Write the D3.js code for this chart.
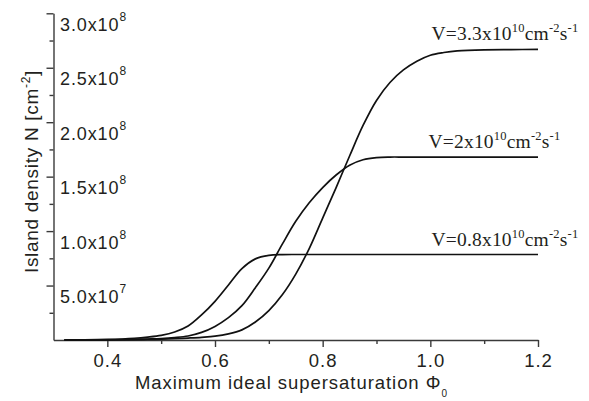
<!DOCTYPE html>
<html><head><meta charset="utf-8">
<script src="https://cdn.jsdelivr.net/npm/d3@7"></script>
<style>
html,body{margin:0;padding:0;background:#fff;}
svg{display:block;}
text{fill:#231f20;}
</style>
</head><body>
<svg id="chart" width="589" height="401"></svg>
<script>
// ---- data ----
const phi = [0.32, 0.35, 0.4, 0.45, 0.475, 0.5, 0.525, 0.55, 0.575, 0.6, 0.625, 0.65, 0.675, 0.7, 0.725, 0.75, 0.775, 0.8, 0.825, 0.85, 0.875, 0.9, 0.925, 0.95, 0.975, 1.0, 1.025, 1.05, 1.1, 1.15, 1.2];
const densityV08 = [0, 0.1e6, 0.5e6, 1.6e6, 2.7e6, 4.3e6, 7.3e6, 12.8e6, 23e6, 35.5e6, 50.5e6, 65.5e6, 74.5e6, 77.7e6, 78.4e6, 78.5e6, 78.5e6, 78.5e6, 78.5e6, 78.5e6, 78.5e6, 78.5e6, 78.5e6, 78.5e6, 78.5e6, 78.5e6, 78.5e6, 78.5e6, 78.5e6, 78.5e6, 78.5e6];
const densityV2 = [0, 0.05e6, 0.2e6, 0.6e6, 0.9e6, 1.3e6, 2.2e6, 3.7e6, 7e6, 12.5e6, 20.5e6, 31.5e6, 48e6, 66e6, 88e6, 109e6, 126e6, 140e6, 151.5e6, 160.5e6, 165.5e6, 167.5e6, 168e6, 168e6, 168e6, 168e6, 168e6, 168e6, 168e6, 168e6, 168e6];
const densityV33 = [0, 0.03e6, 0.1e6, 0.3e6, 0.5e6, 0.8e6, 1.2e6, 1.8e6, 2.5e6, 3.5e6, 5.6e6, 9.3e6, 16.5e6, 27e6, 41.5e6, 60.5e6, 84e6, 112e6, 140e6, 169e6, 197e6, 220e6, 236.5e6, 248e6, 256e6, 261.5e6, 264e6, 265.5e6, 266.5e6, 266.7e6, 266.8e6];
const seriesNames = ["0.8", "2", "3.3"];
const xMajorTicks = [0.4, 0.6, 0.8, 1.0, 1.2];
const xMinorTicks = [0.5, 0.7, 0.9, 1.1];
const yMajorTicks = [5e7, 1e8, 1.5e8, 2e8, 2.5e8, 3e8];
const yMinorTicks = [2.5e7, 7.5e7, 1.25e8, 1.75e8, 2.25e8, 2.75e8];
const yTickMantissa = ["5.0", "1.0", "1.5", "2.0", "2.5", "3.0"];
const yTickExponent = ["7", "8", "8", "8", "8", "8"];

// ---- layout ----
const svg = d3.select("#chart");
const x = d3.scaleLinear().domain([0.3, 1.2]).range([53.5, 538]);
const y = d3.scaleLinear().domain([0, 3e8]).range([340, 13.3]);
const axisColor = "#3a3a3a";
const sans = "'Liberation Sans', Arial, Helvetica, sans-serif";
const serif = "'Liberation Serif', 'Times New Roman', serif";

// x axis
const gx = svg.append("g").attr("transform", `translate(0,${y(0)})`);
gx.call(d3.axisBottom(x).tickValues(xMajorTicks).tickSize(7).tickSizeOuter(0).tickFormat(d3.format(".1f")));
const gxm = svg.append("g").attr("transform", `translate(0,${y(0)})`);
gxm.call(d3.axisBottom(x).tickValues(xMinorTicks).tickSize(4).tickSizeOuter(0).tickFormat(""));
gxm.select(".domain").remove();
gx.selectAll("text").attr("dy", null).attr("y", 27).attr("dominant-baseline", "auto")
  .style("font-family", sans).style("font-size", "18.5px").style("letter-spacing", "1px").style("fill", "#231f20");

// y axis
const gy = svg.append("g").attr("transform", `translate(${x(0.3)},0)`);
gy.call(d3.axisLeft(y).tickValues(yMajorTicks).tickSize(7).tickSizeOuter(0).tickFormat(""));
const gym = svg.append("g").attr("transform", `translate(${x(0.3)},0)`);
gym.call(d3.axisLeft(y).tickValues(yMinorTicks).tickSize(4).tickSizeOuter(0).tickFormat(""));
gym.select(".domain").remove();

svg.selectAll(".domain, .tick line").attr("stroke", axisColor).attr("stroke-width", 1.4);

// y tick labels inside
const yl = svg.append("g").selectAll("text").data(yMajorTicks).join("text")
  .attr("x", x(0.3) + 6.5).attr("y", d => y(d) + 17.5)
  .style("font-family", sans).style("font-size", "18px").style("letter-spacing", "0.9px");
yl.append("tspan").text((d, i) => yTickMantissa[i] + "x10");
yl.append("tspan").attr("dy", -10).style("font-size", "12px").text((d, i) => yTickExponent[i]);

// curves
const line = d3.line().x(d => x(d[0])).y(d => y(d[1])).curve(d3.curveCatmullRom.alpha(0.5));
const seriesData = [densityV08, densityV2, densityV33];
svg.append("g").selectAll("path").data(seriesData).join("path")
  .attr("d", s => line(phi.map((p, i) => [p, s[i]])))
  .attr("fill", "none").attr("stroke", "#111").attr("stroke-width", 1.7);

// curve labels
const labelX = [431.5, 428.5, 431.5];
seriesData.forEach((s, k) => {
  const t = svg.append("text").attr("x", labelX[k]).attr("y", y(s[s.length - 1]) - 9)
    .style("font-family", serif).style("font-size", "19.5px").style("letter-spacing", "0.2px");
  t.append("tspan").text("V=" + seriesNames[k] + "x10");
  t.append("tspan").attr("dy", -8).style("font-size", "12.5px").text("10");
  t.append("tspan").attr("dy", 8).text("cm");
  t.append("tspan").attr("dy", -8).style("font-size", "12.5px").text("-2");
  t.append("tspan").attr("dy", 8).text("s");
  t.append("tspan").attr("dy", -8).style("font-size", "12.5px").text("-1");
});

// axis titles
const yt = svg.append("text").attr("transform", "translate(38,171.5) rotate(-90)")
  .attr("text-anchor", "middle").style("font-family", sans).style("font-size", "19px").style("letter-spacing", "0.7px");
yt.append("tspan").text("Island density N [cm");
yt.append("tspan").attr("dy", -8).style("font-size", "12px").text("-2");
yt.append("tspan").attr("dy", 8).text("]");

const xt = svg.append("text").attr("x", 135).attr("y", 389)
  .style("font-family", sans).style("font-size", "18.5px").style("letter-spacing", "0.95px");
xt.append("tspan").text("Maximum ideal supersaturation \u03A6");
xt.append("tspan").attr("dy", 8).style("font-size", "10px").text("0");
</script>
</body></html>
